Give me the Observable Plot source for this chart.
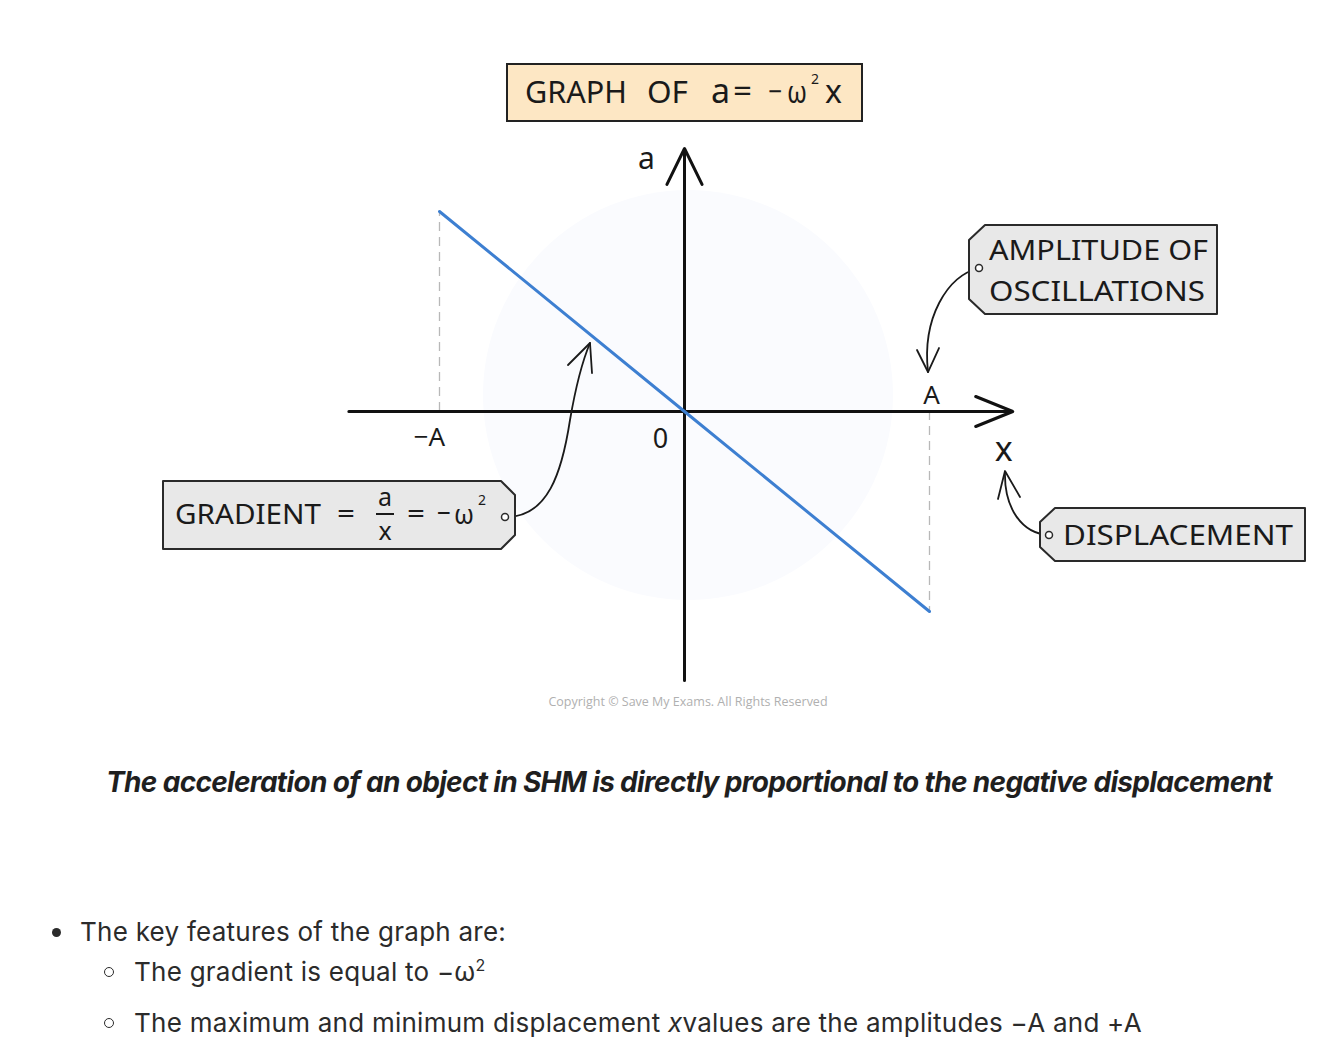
<!DOCTYPE html>
<html>
<head>
<meta charset="utf-8">
<script src="https://cdn.jsdelivr.net/npm/d3@7"></script>
<script src="https://cdn.jsdelivr.net/npm/@observablehq/plot@0.6"></script>
<style>
  body { margin: 0; background: #ffffff; }
  #wrap { position: relative; width: 1334px; height: 1055px; overflow: hidden; }
  #chart { position: absolute; left: 0; top: 0; }
  .caption { position: absolute; left: 22px; top: 764px; width: 1334px; text-align: center;
    font-family: Inter, "Noto Sans", sans-serif; font-weight: 700; font-style: italic;
    font-size: 28px; letter-spacing: -0.67px; color: #1f1f1f; line-height: 36px; white-space: nowrap; }
  .line { position: absolute; font-family: Inter, "Noto Sans", sans-serif; font-size: 26px;
    letter-spacing: 0.25px; color: #2b2b2b; line-height: 32px; white-space: nowrap; }
  .dot { position: absolute; width: 9px; height: 9px; border-radius: 50%; background: #2b2b2b; }
  .ring { position: absolute; width: 8px; height: 8px; border-radius: 50%; border: 1.6px solid #2b2b2b; }
  sup { font-size: 16px; line-height: 0; vertical-align: 0; position: relative; top: -10px; }
</style>
</head>
<body>
<div id="wrap">
  <div id="chart"></div>
  <div class="caption">The acceleration of an object in SHM is directly proportional to the negative displacement</div>
  <div class="dot" style="left:52px; top:928px;"></div>
  <div class="line" style="left:80px; top:916px;">The key features of the graph are:</div>
  <div class="ring" style="left:104px; top:967px;"></div>
  <div class="line" style="left:134px; top:956px;">The gradient is equal to −ω<sup>2</sup></div>
  <div class="ring" style="left:104px; top:1018px;"></div>
  <div class="line" style="left:134px; top:1007px;">The maximum and minimum displacement <i>x</i>values are the amplitudes −A and +A</div>
</div>
<script>
// ---- data (displacement in units of A, acceleration in units of ω²A) ----
const xValues = [-1, 0, 1];
const aValues = [1, 0, -1];
const tickValues = [-1, 1];
const tickLabels = ["−A", "A"];
const originLabel = ["0"];
const xAxisExtent = [-1.37, 1.34];
const yAxisExtent = [-1.345, 1.315];
const axisNames = ["x", "a"];

const points = xValues.map((x, i) => ({x, a: aValues[i]}));
const ticks = tickValues.map((v, i) => ({v, label: tickLabels[i]}));

const FONT = "'Noto Sans', 'DejaVu Sans', sans-serif";

const plot = Plot.plot({
  width: 1334,
  height: 730,
  margin: 0,
  style: {background: "transparent", overflow: "visible", fontFamily: FONT},
  x: {domain: [-1, 1], range: [439, 929], axis: null},
  y: {domain: [-1, 1], range: [611, 211], axis: null},
  marks: [
    // dashed guides at ±A down/up to the line
    Plot.ruleX(ticks, {x: "v", y1: 0, y2: d => -d.v, stroke: "#b8b8b8", strokeWidth: 1.3, strokeDasharray: "9,6"}),
    // axes
    Plot.arrow([{x1: xAxisExtent[0], x2: xAxisExtent[1], y1: 0, y2: 0}],
      {x1: "x1", x2: "x2", y1: "y1", y2: "y2", stroke: "#111", strokeWidth: 3, headLength: 20, headAngle: 44}),
    Plot.arrow([{x1: 0, x2: 0, y1: yAxisExtent[0], y2: yAxisExtent[1]}],
      {x1: "x1", x2: "x2", y1: "y1", y2: "y2", stroke: "#111", strokeWidth: 3, headLength: 20, headAngle: 52}),
    // a = -ω² x
    Plot.line(points, {x: "x", y: "a", stroke: "#3d7fd1", strokeWidth: 3}),
    // tick labels
    Plot.text([ticks[0]], {x: "v", y: 0, text: "label", dx: -10, dy: 34, lineAnchor: "bottom",
      fontSize: 26, fill: "#1a1a1a", fontFamily: FONT}),
    Plot.text([ticks[1]], {x: "v", y: 0, text: "label", dx: 2, dy: -8, lineAnchor: "bottom",
      fontSize: 26, fill: "#1a1a1a", fontFamily: FONT}),
    Plot.text(originLabel, {x: 0, y: 0, text: d => d, dx: -24, dy: 36, lineAnchor: "bottom",
      fontSize: 27, fill: "#1a1a1a", fontFamily: FONT}),
    // axis names
    Plot.text([axisNames[0]], {x: xAxisExtent[1], y: 0, text: d => d, dx: -9, dy: 49, lineAnchor: "bottom",
      fontSize: 34, fill: "#1a1a1a", fontFamily: FONT}),
    Plot.text([axisNames[1]], {x: 0, y: yAxisExtent[1], text: d => d, dx: -38, dy: 20, lineAnchor: "bottom",
      fontSize: 30, fill: "#1a1a1a", fontFamily: FONT})
  ]
});
document.getElementById("chart").append(plot);

// ---- annotations ----
const svg = d3.select(plot);
// very faint watermark disc behind everything
svg.insert("circle", ":first-child").attr("cx", 688).attr("cy", 395).attr("r", 205)
  .attr("fill", "#fafbfe");

const g = svg.append("g").attr("font-family", FONT).attr("fill", "#1a1a1a").attr("text-anchor", "start");

function txt(x, y, s, size, opts = {}) {
  const t = g.append("text").attr("x", x).attr("y", y).attr("font-size", size)
    .attr("text-anchor", opts.anchor || "start").text(s);
  if (opts.len) t.attr("textLength", opts.len).attr("lengthAdjust", "spacingAndGlyphs");
  return t;
}
function tag(d, hx, hy) {
  g.append("path").attr("d", d).attr("fill", "#e8e8e8").attr("stroke", "#2a2a2a").attr("stroke-width", 2)
    .attr("stroke-linejoin", "round");
  g.append("circle").attr("cx", hx).attr("cy", hy).attr("r", 3.5).attr("fill", "#fff")
    .attr("stroke", "#2a2a2a").attr("stroke-width", 1.5);
}
function curve(d, head) {
  g.append("path").attr("d", d).attr("fill", "none").attr("stroke", "#1a1a1a").attr("stroke-width", 1.8)
    .attr("stroke-linecap", "round");
  g.append("path").attr("d", head).attr("fill", "none").attr("stroke", "#1a1a1a").attr("stroke-width", 1.8)
    .attr("stroke-linecap", "round").attr("stroke-linejoin", "round");
}

// title box
g.append("rect").attr("x", 507).attr("y", 64).attr("width", 355).attr("height", 57)
  .attr("fill", "#fde7c4").attr("stroke", "#222").attr("stroke-width", 2);
txt(525, 103, "GRAPH", 31, {len: 102});
txt(647, 103, "OF", 31, {len: 41});
txt(711, 103, "a", 34);
txt(733, 102, "=", 30, {len: 19});
txt(768, 102, "−", 30, {len: 14});
txt(787, 103, "ω", 30, {len: 20});
txt(811, 84, "2", 14);
txt(825, 103, "x", 32);

// amplitude tag
curve("M979,268 C947,276 922,318 928,372", "M917,350 L928,372 L939,348");
tag("M985,225 L1217,225 L1217,314 L985,314 L969,299 L969,240 Z", 979, 268);
txt(989, 260, "AMPLITUDE OF", 27, {len: 219});
txt(989, 301, "OSCILLATIONS", 27, {len: 216});

// gradient tag
curve("M505,517 C548,518 562,472 570,420 C576,385 582,362 590,343", "M568,365 L590,343 L592,373");
tag("M163,481 L501,481 L515,495 L515,535 L501,549 L163,549 Z", 505, 517);
txt(175, 524, "GRADIENT", 28, {len: 146});
txt(337, 523, "=", 28, {len: 18});
txt(385, 506, "a", 25, {anchor: "middle"});
g.append("line").attr("x1", 376).attr("x2", 394).attr("y1", 514).attr("y2", 514)
  .attr("stroke", "#1a1a1a").attr("stroke-width", 2);
txt(385, 540, "x", 25, {anchor: "middle"});
txt(407, 523, "=", 28, {len: 18});
txt(437, 523, "−", 28, {len: 14});
txt(454, 524, "ω", 28, {len: 20});
txt(478, 505, "2", 14);

// displacement tag
curve("M1049,535 C1022,534 1004,508 1005,472", "M998,499 L1005,471 L1020,497");
tag("M1055,508 L1305,508 L1305,561 L1055,561 L1040,547 L1040,522 Z", 1049, 535);
txt(1063, 545, "DISPLACEMENT", 28, {len: 230});

// copyright
g.append("text").attr("x", 688).attr("y", 706).attr("text-anchor", "middle")
  .attr("font-size", 12.5).attr("fill", "#b0b0b0").attr("font-family", "'Liberation Sans Narrow', 'Open Sans', sans-serif")
  .text("Copyright © Save My Exams. All Rights Reserved");
</script>
</body>
</html>
